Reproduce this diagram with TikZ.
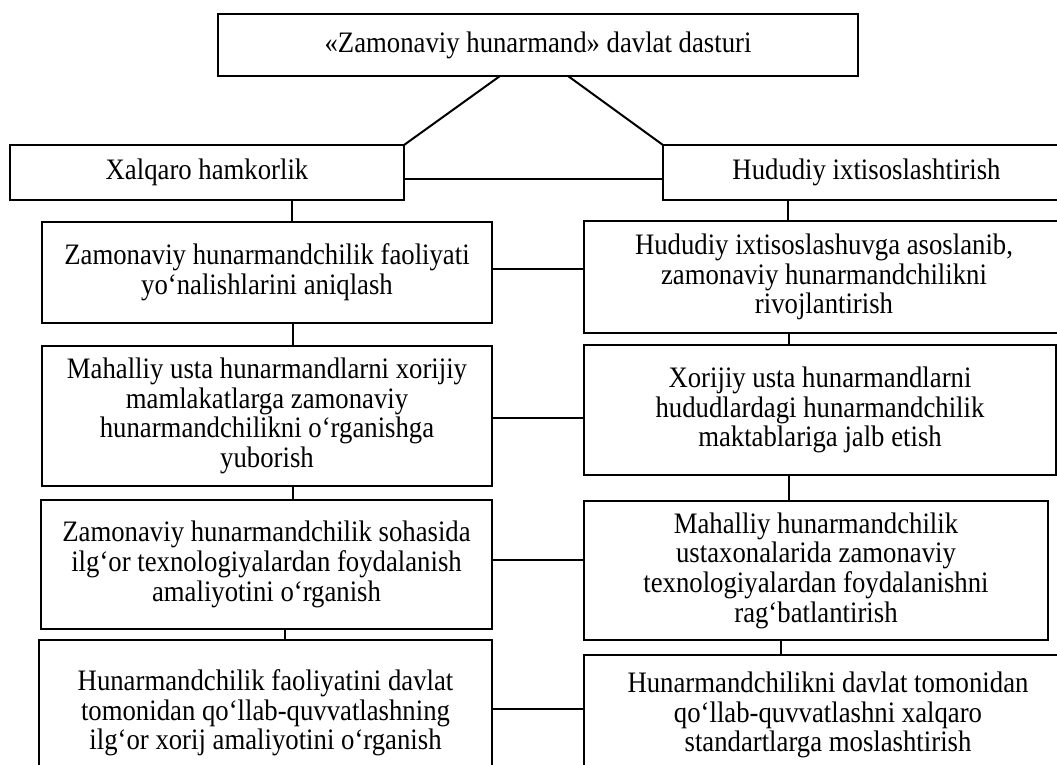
\documentclass[tikz,border=0pt]{standalone}
\usepackage{fontspec}
\setmainfont{Liberation Serif}[FakeStretch=0.9]
\begin{document}
\begin{tikzpicture}[x=1pt,y=-1pt,
  box/.style={draw, line width=2.2pt, inner sep=0pt, outer sep=0pt, anchor=north west, align=center,
    font=\fontsize{29.7pt}{29.7pt}\selectfont},
  link/.style={draw, line width=2pt}]
\clip (0,0) rectangle (1057,764);
\fill[white] (0,0) rectangle (1057,764);
% top
\node[box, minimum width=640pt, minimum height=62pt] (T) at (218,14) {«Zamonaviy hunarmand» davlat dasturi};
% level 0
\node[box, minimum width=394pt, minimum height=55pt] (L0) at (10,145) {Xalqaro hamkorlik};
\node[box, minimum width=407pt, minimum height=55pt] (R0) at (663,145) {Hududiy ixtisoslashtirish};
% left column
\node[box, minimum width=450pt, minimum height=101pt] (L1) at (42,222) {Zamonaviy hunarmandchilik faoliyati\\yo‘nalishlarini aniqlash};
\node[box, minimum width=450pt, minimum height=140pt] (L2) at (42,346) {Mahalliy usta hunarmandlarni xorijiy\\mamlakatlarga zamonaviy\\hunarmandchilikni o‘rganishga\\yuborish};
\node[box, minimum width=451pt, minimum height=129pt] (L3) at (41,500) {Zamonaviy hunarmandchilik sohasida\\ilg‘or texnologiyalardan foydalanish\\amaliyotini o‘rganish};
\node[box, minimum width=453pt, minimum height=146pt] (L4) at (39,640) {Hunarmandchilik faoliyatini davlat\\tomonidan qo‘llab-quvvatlashning\\ilg‘or xorij amaliyotini o‘rganish};
% right column
\node[box, minimum width=480pt, minimum height=112pt] (R1) at (584,221) {Hududiy ixtisoslashuvga asoslanib,\\zamonaviy hunarmandchilikni\\rivojlantirish};
\node[box, minimum width=472pt, minimum height=130pt] (R2) at (584,345) {Xorijiy usta hunarmandlarni\\hududlardagi hunarmandchilik\\maktablariga jalb etish};
\node[box, minimum width=464pt, minimum height=139pt] (R3) at (584,501) {Mahalliy hunarmandchilik\\ustaxonalarida zamonaviy\\texnologiyalardan foydalanishni\\rag‘batlantirish};
\node[box, minimum width=488pt, minimum height=120pt] (R4) at (584,655) {Hunarmandchilikni davlat tomonidan\\qo‘llab-quvvatlashni xalqaro\\standartlarga moslashtirish};
% connectors
\draw[link] (T.south -| 500,0) -- (L0.north east);
\draw[link] (T.south -| 568,0) -- (R0.north west);
\draw[link] (L0.east |- 0,179) -- (R0.west |- 0,179);
\draw[link] (L0.south -| 292,0) -- (L1.north -| 292,0);
\draw[link] (L1.south -| 293,0) -- (L2.north -| 293,0);
\draw[link] (L2.south -| 293,0) -- (L3.north -| 293,0);
\draw[link] (L3.south -| 285,0) -- (L4.north -| 285,0);
\draw[link] (R0.south -| 788,0) -- (R1.north -| 788,0);
\draw[link] (R1.south -| 789,0) -- (R2.north -| 789,0);
\draw[link] (R2.south -| 789,0) -- (R3.north -| 789,0);
\draw[link] (R3.south -| 781,0) -- (R4.north -| 781,0);
\draw[link] (L1.east |- 0,269) -- (R1.west |- 0,269);
\draw[link] (L2.east |- 0,418) -- (R2.west |- 0,418);
\draw[link] (L3.east |- 0,560) -- (R3.west |- 0,560);
\draw[link] (L4.east |- 0,709) -- (R4.west |- 0,709);
\end{tikzpicture}
\end{document}
